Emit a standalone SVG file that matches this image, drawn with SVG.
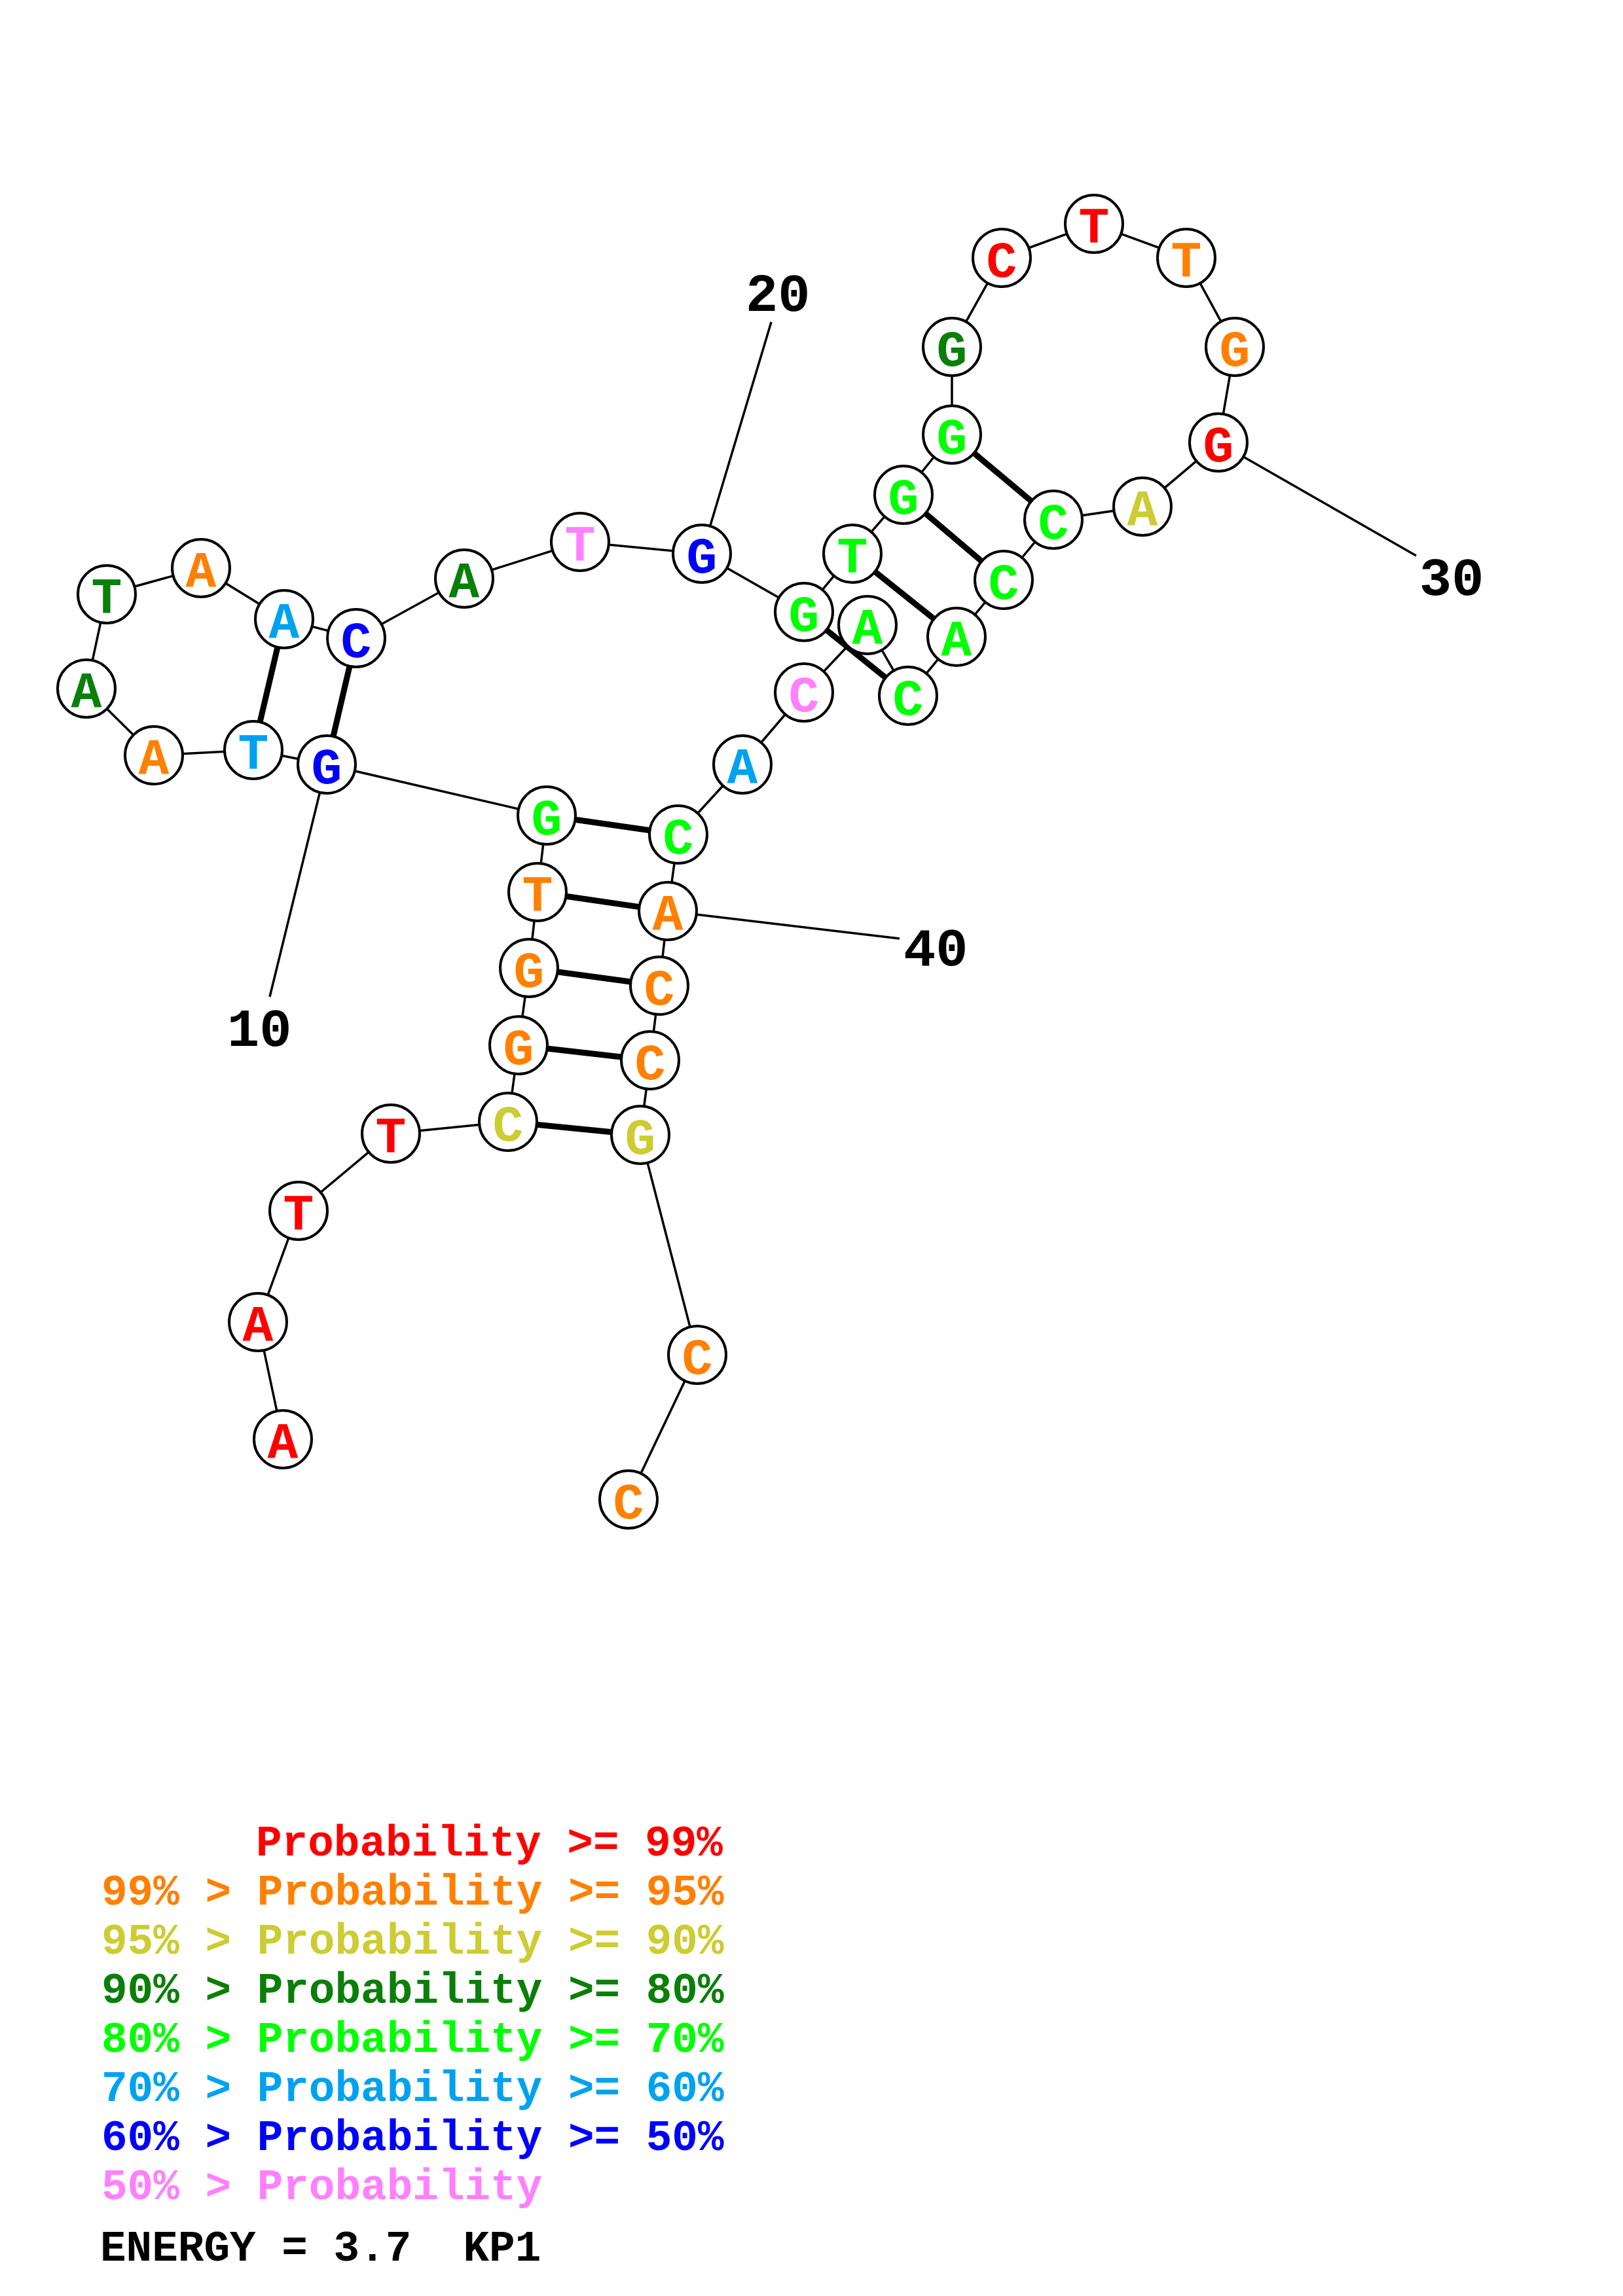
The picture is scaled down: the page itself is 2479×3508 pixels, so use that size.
<svg xmlns="http://www.w3.org/2000/svg" width="2479" height="3508" viewBox="0 0 2479 3508">
<style>
.bb{stroke:#000;stroke-width:3.5;fill:none}
.bp{stroke:#000;stroke-width:9;fill:none}
.n circle{fill:#fff;stroke:#000;stroke-width:4}
.n text{font-family:"Liberation Mono",monospace;font-weight:bold;font-size:78px;text-anchor:middle}
.num{font-family:"Liberation Mono",monospace;font-weight:bold;font-size:82px;fill:#000}
.leg{font-family:"Liberation Mono",monospace;font-weight:bold;font-size:66px;white-space:pre}
.r{fill:#FF0000}.o{fill:#FF8000}.y{fill:#CCCC33}.dg{fill:#0A7F0A}.g{fill:#00FF00}.lb{fill:#00A2F0}.b{fill:#0000FF}.p{fill:#FF80FF}.k{fill:#000}
</style>
<rect width="2479" height="3508" fill="#fff"/>
<g id="connectors">
<polyline class="bb" points="432,2199 394,2020 456,1850 597,1732 776,1714 792,1597 808,1479 821,1363 835,1246 499,1168 387,1146 235,1154 132,1052 163,908 307,868 434,946 544,975 709,884 886,828 1072,846 1228,935 1302,846 1380,756 1454,664 1454,530 1530,394 1671,342 1812,394 1886,530 1861,676 1745,774 1609,794 1533,886 1461,973 1387,1063 1325,955 1228,1058 1134,1168 1036,1275 1020,1392 1007,1506 993,1620 978,1734 1065,2070 960,2291"/>
<line class="bp" x1="387" y1="1146" x2="434" y2="946"/>
<line class="bp" x1="499" y1="1168" x2="544" y2="975"/>
<line class="bp" x1="835" y1="1246" x2="1036" y2="1275"/>
<line class="bp" x1="821" y1="1363" x2="1020" y2="1392"/>
<line class="bp" x1="808" y1="1479" x2="1007" y2="1506"/>
<line class="bp" x1="792" y1="1597" x2="993" y2="1620"/>
<line class="bp" x1="776" y1="1714" x2="978" y2="1734"/>
<line class="bp" x1="1228" y1="935" x2="1387" y2="1063"/>
<line class="bp" x1="1302" y1="846" x2="1461" y2="973"/>
<line class="bp" x1="1380" y1="756" x2="1533" y2="886"/>
<line class="bp" x1="1454" y1="664" x2="1609" y2="794"/>
<line class="bb" x1="499" y1="1168" x2="412" y2="1523"/>
<line class="bb" x1="1072" y1="846" x2="1178" y2="492"/>
<line class="bb" x1="1861" y1="676" x2="2163" y2="849"/>
<line class="bb" x1="1020" y1="1392" x2="1374" y2="1434"/>
</g>
<g id="n1" class="n"><circle cx="432" cy="2199" r="44"/><text x="432" y="2228" class="r">A</text></g>
<g id="n2" class="n"><circle cx="394" cy="2020" r="44"/><text x="394" y="2049" class="r">A</text></g>
<g id="n3" class="n"><circle cx="456" cy="1850" r="44"/><text x="456" y="1879" class="r">T</text></g>
<g id="n4" class="n"><circle cx="597" cy="1732" r="44"/><text x="597" y="1761" class="r">T</text></g>
<g id="n5" class="n"><circle cx="776" cy="1714" r="44"/><text x="776" y="1743" class="y">C</text></g>
<g id="n6" class="n"><circle cx="792" cy="1597" r="44"/><text x="792" y="1626" class="o">G</text></g>
<g id="n7" class="n"><circle cx="808" cy="1479" r="44"/><text x="808" y="1508" class="o">G</text></g>
<g id="n8" class="n"><circle cx="821" cy="1363" r="44"/><text x="821" y="1392" class="o">T</text></g>
<g id="n9" class="n"><circle cx="835" cy="1246" r="44"/><text x="835" y="1275" class="g">G</text></g>
<g id="n10" class="n"><circle cx="499" cy="1168" r="44"/><text x="499" y="1197" class="b">G</text></g>
<g id="n11" class="n"><circle cx="387" cy="1146" r="44"/><text x="387" y="1175" class="lb">T</text></g>
<g id="n12" class="n"><circle cx="235" cy="1154" r="44"/><text x="235" y="1183" class="o">A</text></g>
<g id="n13" class="n"><circle cx="132" cy="1052" r="44"/><text x="132" y="1081" class="dg">A</text></g>
<g id="n14" class="n"><circle cx="163" cy="908" r="44"/><text x="163" y="937" class="dg">T</text></g>
<g id="n15" class="n"><circle cx="307" cy="868" r="44"/><text x="307" y="897" class="o">A</text></g>
<g id="n16" class="n"><circle cx="434" cy="946" r="44"/><text x="434" y="975" class="lb">A</text></g>
<g id="n17" class="n"><circle cx="544" cy="975" r="44"/><text x="544" y="1004" class="b">C</text></g>
<g id="n18" class="n"><circle cx="709" cy="884" r="44"/><text x="709" y="913" class="dg">A</text></g>
<g id="n19" class="n"><circle cx="886" cy="828" r="44"/><text x="886" y="857" class="p">T</text></g>
<g id="n20" class="n"><circle cx="1072" cy="846" r="44"/><text x="1072" y="875" class="b">G</text></g>
<g id="n21" class="n"><circle cx="1228" cy="935" r="44"/><text x="1228" y="964" class="g">G</text></g>
<g id="n22" class="n"><circle cx="1302" cy="846" r="44"/><text x="1302" y="875" class="g">T</text></g>
<g id="n23" class="n"><circle cx="1380" cy="756" r="44"/><text x="1380" y="785" class="g">G</text></g>
<g id="n24" class="n"><circle cx="1454" cy="664" r="44"/><text x="1454" y="693" class="g">G</text></g>
<g id="n25" class="n"><circle cx="1454" cy="530" r="44"/><text x="1454" y="559" class="dg">G</text></g>
<g id="n26" class="n"><circle cx="1530" cy="394" r="44"/><text x="1530" y="423" class="r">C</text></g>
<g id="n27" class="n"><circle cx="1671" cy="342" r="44"/><text x="1671" y="371" class="r">T</text></g>
<g id="n28" class="n"><circle cx="1812" cy="394" r="44"/><text x="1812" y="423" class="o">T</text></g>
<g id="n29" class="n"><circle cx="1886" cy="530" r="44"/><text x="1886" y="559" class="o">G</text></g>
<g id="n30" class="n"><circle cx="1861" cy="676" r="44"/><text x="1861" y="705" class="r">G</text></g>
<g id="n31" class="n"><circle cx="1745" cy="774" r="44"/><text x="1745" y="803" class="y">A</text></g>
<g id="n32" class="n"><circle cx="1609" cy="794" r="44"/><text x="1609" y="823" class="g">C</text></g>
<g id="n33" class="n"><circle cx="1533" cy="886" r="44"/><text x="1533" y="915" class="g">C</text></g>
<g id="n34" class="n"><circle cx="1461" cy="973" r="44"/><text x="1461" y="1002" class="g">A</text></g>
<g id="n35" class="n"><circle cx="1387" cy="1063" r="44"/><text x="1387" y="1092" class="g">C</text></g>
<g id="n36" class="n"><circle cx="1325" cy="955" r="44"/><text x="1325" y="984" class="g">A</text></g>
<g id="n37" class="n"><circle cx="1228" cy="1058" r="44"/><text x="1228" y="1087" class="p">C</text></g>
<g id="n38" class="n"><circle cx="1134" cy="1168" r="44"/><text x="1134" y="1197" class="lb">A</text></g>
<g id="n39" class="n"><circle cx="1036" cy="1275" r="44"/><text x="1036" y="1304" class="g">C</text></g>
<g id="n40" class="n"><circle cx="1020" cy="1392" r="44"/><text x="1020" y="1421" class="o">A</text></g>
<g id="n41" class="n"><circle cx="1007" cy="1506" r="44"/><text x="1007" y="1535" class="o">C</text></g>
<g id="n42" class="n"><circle cx="993" cy="1620" r="44"/><text x="993" y="1649" class="o">C</text></g>
<g id="n43" class="n"><circle cx="978" cy="1734" r="44"/><text x="978" y="1763" class="y">G</text></g>
<g id="n44" class="n"><circle cx="1065" cy="2070" r="44"/><text x="1065" y="2099" class="o">C</text></g>
<g id="n45" class="n"><circle cx="960" cy="2291" r="44"/><text x="960" y="2320" class="o">C</text></g>
<g id="labels">
<text class="num" x="347" y="1598">10</text>
<text class="num" x="1139" y="475">20</text>
<text class="num" x="2168" y="909">30</text>
<text class="num" x="1380" y="1475">40</text>
</g>
<g id="legend">
<text class="leg r" x="391" y="2835">Probability &gt;= 99%</text>
<text class="leg o" x="155" y="2910">99% &gt; Probability &gt;= 95%</text>
<text class="leg y" x="155" y="2985">95% &gt; Probability &gt;= 90%</text>
<text class="leg dg" x="155" y="3060">90% &gt; Probability &gt;= 80%</text>
<text class="leg g" x="155" y="3135">80% &gt; Probability &gt;= 70%</text>
<text class="leg lb" x="155" y="3210">70% &gt; Probability &gt;= 60%</text>
<text class="leg b" x="155" y="3285">60% &gt; Probability &gt;= 50%</text>
<text class="leg p" x="155" y="3360">50% &gt; Probability</text>
<text class="leg k" x="153" y="3454" xml:space="preserve">ENERGY = 3.7  KP1</text>
</g>
</svg>
